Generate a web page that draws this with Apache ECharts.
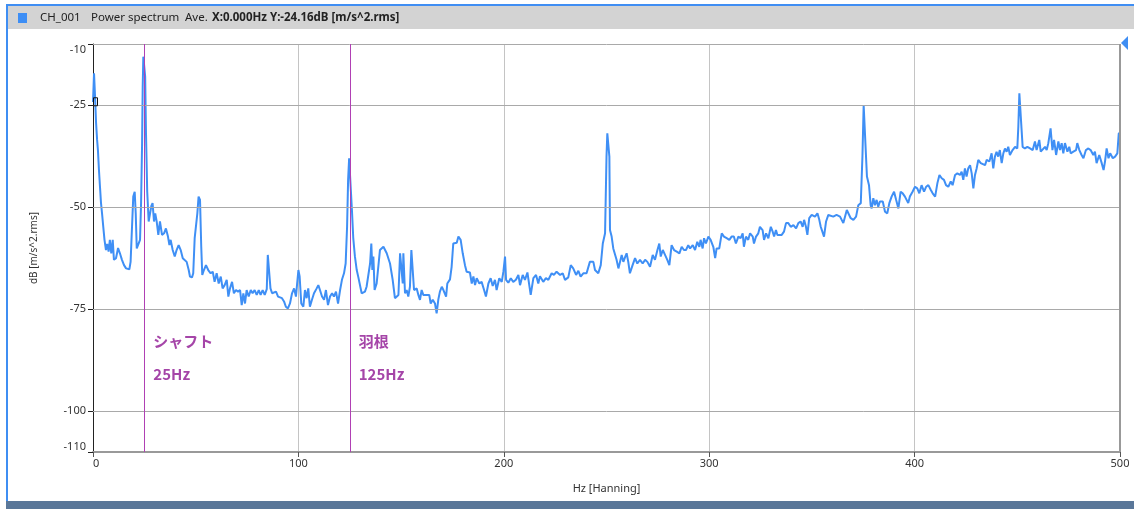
<!DOCTYPE html>
<html><head><meta charset="utf-8">
<script src="https://cdn.jsdelivr.net/npm/echarts@6/dist/echarts.min.js"></script>
<style>html,body{margin:0;padding:0;background:#fff}#c{width:1134px;height:509px}</style>
</head><body><div id="c"></div>
<script>
// Spectrum values: [Hz, dB]
const band0to60 = [[0,-24.2],[0.5,-17.2],[1.0,-22.9],[1.5,-29.4],[2.0,-33.5],[2.4,-36],[2.9,-40.9],[3.4,-45],[3.9,-49],[4.4,-51.5],[5.0,-54.8],[5.6,-58],[6.3,-60.5],[6.9,-59],[7.6,-60.9],[8.2,-58],[8.9,-61.3],[9.6,-58],[10.2,-62.9],[11.2,-62.5],[12.2,-60],[13.1,-61.3],[14.1,-62.9],[15.1,-64.2],[16.1,-65],[17.0,-64.6],[17.7,-65.2],[18.3,-63.4],[19.0,-54.8],[19.6,-47.4],[20.3,-46.2],[20.8,-51.5],[21.3,-60.1],[22.1,-60.1],[22.9,-58],[23.4,-49],[23.9,-34.3],[24.2,-20.5],[24.5,-13.1],[25.2,-13.1],[25.4,-18],[25.8,-31.8],[26.4,-46.2],[27.1,-53.5],[27.8,-53.9],[28.4,-49.7],[29.0,-49],[29.7,-53.5],[30.3,-51.5],[31.0,-53.5],[31.8,-56.8],[32.6,-53.5],[33.6,-56.8],[34.6,-56.4],[35.5,-55.2],[36.5,-57.2],[37.2,-59.3],[37.8,-58],[38.8,-60.5],[39.8,-62.1],[40.7,-60.5],[41.7,-59.3],[42.7,-60.5],[43.7,-62.5],[44.6,-62.9],[45.6,-63.4],[46.6,-65.4],[47.2,-67],[48.2,-67.2],[48.8,-66.2],[49.5,-57.6],[50.3,-58],[50.8,-51.5],[51.4,-47.4],[52.1,-48.2],[52.7,-59.7],[53.2,-66.6],[54.0,-65.4],[55.0,-64.2],[56.1,-65.4],[57.3,-66.2],[58.3,-65.8],[59.2,-68.3]];
const band60to134 = [[60.2,-66.2],[61.2,-68.7],[62.2,-67],[63.1,-69.9],[64.1,-69.1],[65.1,-67.8],[65.9,-71.9],[66.7,-69.9],[67.7,-68.3],[68.6,-71.1],[69.6,-70.3],[70.6,-70.7],[71.6,-70.3],[72.4,-74],[73.2,-71.1],[74.0,-73.6],[74.8,-70.3],[75.8,-71.9],[76.8,-70.3],[77.7,-71.1],[78.7,-70.3],[79.7,-71.5],[80.7,-70.3],[81.6,-71.5],[82.6,-70.3],[83.6,-71.5],[84.6,-70.1],[85.1,-61.7],[85.7,-61.7],[86.4,-69.9],[87.2,-71.1],[88.1,-71.5],[89.1,-70.7],[90.1,-71.9],[91.0,-71.9],[92.0,-72.3],[93.0,-73.1],[93.9,-74.4],[94.9,-74.8],[95.9,-73.6],[96.9,-71.1],[97.9,-69.9],[98.8,-71.9],[99.5,-71.5],[100.0,-65.4],[100.6,-67],[101.4,-73.6],[102.4,-74.4],[103.2,-70.3],[104.0,-72.3],[104.8,-69.9],[105.6,-74.4],[106.6,-72.7],[107.6,-71.1],[108.9,-69.9],[109.7,-69.1],[110.5,-70.3],[111.5,-71.9],[112.5,-72.7],[113.4,-70.3],[114.4,-74],[115.4,-71.9],[116.4,-71.1],[117.3,-71.9],[118.3,-70.7],[119.3,-73.6],[120.3,-70.3],[121.2,-67.8],[122.2,-66.2],[123.0,-63.8],[123.7,-54.8],[124.2,-43.3],[124.7,-38],[125.6,-38],[126.1,-51.1],[126.7,-57.5],[127.5,-62],[128.4,-65.4],[129.2,-67.2],[130.8,-71.1],[132.4,-70.7],[133.2,-69.5],[134.0,-69.9]];
const band134to239 = [[134.9,-63.8],[135.5,-58.9],[136.0,-65.4],[136.5,-62.1],[137.1,-70.3],[138.1,-68.7],[139.7,-60.5],[141.4,-59.7],[143.0,-61.3],[144.6,-63.8],[145.9,-67.8],[147.0,-72.3],[148.7,-71.5],[149.5,-61.3],[150.3,-61.3],[150.8,-68.7],[151.1,-61.3],[151.9,-71.1],[152.7,-70.3],[153.5,-71.9],[154.3,-69.5],[155.0,-60.5],[155.6,-60.3],[156.3,-70.3],[157.6,-69.9],[158.4,-71.5],[159.2,-72.7],[160.0,-70.3],[160.8,-71.5],[162.4,-71.5],[163.7,-71.5],[164.4,-73.6],[165.4,-72.7],[166.5,-73.6],[167.3,-76],[168.1,-72.7],[168.9,-70.7],[169.8,-69.5],[170.6,-70.3],[171.9,-71.9],[172.5,-68.7],[173.8,-67.7],[174.6,-64.6],[175.4,-58.9],[176.2,-58.5],[177.1,-58.7],[177.9,-57.2],[179.0,-58],[180.0,-61.3],[181.1,-64.2],[181.9,-65.8],[183.5,-66],[184.4,-68.7],[185.2,-67],[186.0,-69.1],[186.8,-67.4],[188.1,-68.7],[189.2,-68.3],[190.4,-70.3],[191.3,-71.9],[192.5,-68.7],[193.6,-67.4],[194.6,-69.3],[195.7,-67.8],[196.5,-70.3],[197.8,-67.4],[199.0,-68.3],[199.8,-65.8],[200.6,-62.1],[201.1,-67.8],[202.2,-68.5],[203.4,-67.4],[204.6,-68.3],[205.9,-67.8],[207.1,-66.6],[207.9,-69.1],[209.2,-66.6],[210.3,-67.8],[211.5,-66],[212.4,-69.1],[213.1,-71.5],[214.4,-67.4],[215.7,-66.6],[216.8,-68.7],[217.6,-66.9],[219.2,-68.3],[220.5,-67.4],[221.7,-67.8],[223.3,-66.2],[224.4,-66.6],[225.7,-65.8],[227.4,-66.6],[228.7,-66.2],[229.8,-67.8],[231.4,-67.2],[232.6,-64.2],[233.8,-65],[235.2,-66.6],[236.3,-65.6],[237.4,-67],[238.7,-66.2]];
const band240to358 = [[240.3,-66.2],[241.9,-63.4],[243.6,-63.4],[244.4,-65.4],[246.0,-66.2],[247.2,-64.2],[248.2,-58.9],[249.3,-56.4],[250.0,-37.6],[250.4,-31.9],[250.9,-32.3],[251.4,-37.6],[251.7,-55.6],[252.5,-57.2],[253.3,-60.1],[254.9,-62.9],[255.8,-65],[257.4,-61.7],[258.2,-63.4],[259.0,-62.3],[259.8,-61.3],[260.6,-63.4],[261.4,-66.2],[262.7,-64.2],[263.9,-62.5],[265.0,-63.8],[266.3,-62.9],[267.6,-63.8],[268.8,-62.9],[269.9,-63.4],[271.2,-64.6],[272.5,-61.7],[273.6,-62.9],[274.8,-60.5],[275.7,-58.9],[276.4,-62.1],[277.4,-60.5],[278.5,-61.7],[279.6,-62.9],[280.6,-64.2],[281.7,-59.3],[282.9,-60.5],[284.2,-60.9],[285.5,-61.3],[286.6,-59.7],[287.7,-60.5],[288.7,-60.5],[289.8,-59.3],[290.7,-60.1],[292.0,-59.3],[293.1,-60.5],[294.2,-58.5],[295.2,-59.7],[295.8,-58],[296.8,-60.1],[297.5,-57.6],[298.4,-58.9],[299.6,-57.2],[300.7,-58],[302.0,-59.7],[302.9,-62.5],[303.6,-60.1],[304.9,-60.1],[306.1,-56.4],[307.2,-57.2],[308.5,-57.6],[309.8,-58],[310.9,-57.2],[312.0,-57.2],[313.0,-58.9],[314.2,-57.2],[315.3,-57.6],[316.3,-56.4],[316.9,-59.7],[317.9,-57.2],[319.0,-58],[319.9,-56.4],[321.2,-57.2],[321.8,-58.9],[322.8,-57.2],[323.9,-56.4],[324.7,-54.8],[326.0,-55.6],[326.7,-58],[327.7,-56.4],[328.8,-57.6],[330.0,-54.8],[330.9,-56],[331.6,-57.2],[332.5,-55.6],[333.2,-56.8],[334.1,-56.4],[335.3,-56.8],[336.4,-56],[337.4,-53.9],[338.5,-53.9],[339.7,-54.8],[341.0,-54.4],[342.3,-55.2],[343.4,-53.9],[344.5,-53.5],[345.5,-54.8],[346.2,-53.1],[347.1,-54.8],[347.8,-56.8],[348.7,-52.7],[349.9,-51.9],[350.7,-51.5],[351.5,-52.3],[352.7,-51.5],[353.6,-53.1],[354.3,-54.8],[355.2,-55.2],[355.9,-57.2],[356.9,-53.5],[358.0,-51.9]];
const band359to500 = [[358.8,-51.9],[360.4,-52.3],[362.0,-51.9],[363.7,-52.3],[365.3,-53.9],[367.0,-50.7],[367.7,-50.3],[368.9,-52.7],[370.2,-53.1],[371.5,-52.3],[372.6,-49.5],[373.8,-49],[374.6,-37.6],[375.2,-25],[376.1,-25],[376.8,-42.5],[377.8,-44.6],[378.6,-49.5],[379.1,-50.3],[379.9,-47.8],[380.7,-49.5],[381.5,-48.2],[382.3,-49.9],[383.1,-48.6],[384.5,-48.6],[385.6,-51.1],[386.7,-51.5],[387.7,-49],[388.8,-47.4],[390.0,-46.2],[391.0,-48.2],[392.1,-50.3],[393.2,-46.2],[394.2,-46.6],[395.3,-47.4],[396.1,-48.2],[396.9,-49],[397.7,-47.4],[399.0,-46.2],[400.2,-45],[401.3,-45.4],[402.3,-46.6],[403.4,-44.6],[404.6,-46.2],[405.6,-45],[406.7,-44.6],[407.9,-45.8],[408.8,-46.6],[410.0,-47.4],[411.1,-44.1],[412.1,-42.1],[413.2,-42.9],[414.3,-43.3],[415.3,-44.6],[416.4,-45],[417.6,-43.7],[418.5,-44.6],[419.7,-42.1],[420.8,-41.7],[422.1,-42.1],[422.9,-41.3],[423.7,-43.3],[424.5,-40.5],[425.3,-42.5],[426.1,-40.5],[427.0,-39.7],[427.8,-41.7],[428.6,-45.4],[429.4,-42.1],[430.2,-40.5],[431.0,-38.4],[432.2,-39.2],[433.1,-38.8],[434.3,-39.7],[435.1,-38.4],[436.4,-38.8],[437.5,-36.8],[438.3,-40.5],[439.1,-37.6],[439.9,-36.4],[440.7,-37.6],[441.5,-36],[442.4,-39.2],[443.2,-36.8],[444.0,-35.6],[444.8,-36.4],[445.6,-35.2],[446.4,-37.2],[447.7,-36],[448.9,-35.2],[450.0,-35.6],[450.5,-30.3],[451.0,-22.1],[451.6,-21.7],[452.1,-31.1],[452.6,-35.2],[453.7,-35.6],[454.9,-35.2],[456.2,-35.6],[457.5,-36],[458.6,-33.9],[459.4,-36],[460.7,-33.5],[461.4,-36.4],[462.3,-36],[463.5,-35.2],[464.3,-36],[465.1,-34.3],[466.2,-30.7],[467.1,-36],[467.9,-33.5],[468.9,-37.2],[470.0,-33.9],[470.8,-36],[471.6,-34.3],[472.4,-36.8],[473.2,-34.3],[474.4,-36.4],[475.3,-35.2],[476.0,-36.8],[477.3,-36.4],[478.6,-36],[479.2,-34.3],[480.2,-36],[481.3,-37.2],[482.2,-38],[483.4,-36],[484.6,-35.6],[485.7,-36],[487.0,-37.2],[487.8,-36.4],[488.6,-39.2],[489.9,-37.2],[491.1,-39.2],[492.0,-40.9],[492.7,-38.8],[493.5,-35.6],[494.4,-38],[495.2,-36.8],[496.5,-38],[497.6,-37.6],[498.7,-36.8],[499.4,-31.9],[500.0,-31.9]];

const yTickValues = [-110, -100, -75, -50, -25, -10];
const yGridValues = [-10, -25, -50, -75, -100];
const markerHz = [25, 125];
const markerLabels = [['シャフト', '25Hz'], ['羽根', '125Hz']];
const cursorPoint = [0, -24.16];
const headerParts = ['CH_001', 'Power spectrum', 'Ave.', 'X:0.000Hz Y:-24.16dB [m/s^2.rms]'];
const xAxisName = 'Hz [Hanning]';
const yAxisName = 'dB [m/s^2.rms]';

const spectrum = band0to60.concat(band60to134, band134to239, band240to358, band359to500);

const FONT = "'Noto Sans', 'DejaVu Sans', sans-serif";
const chart = echarts.init(document.getElementById('c'), null, {renderer: 'canvas'});

chart.setOption({
  animation: false,
  backgroundColor: '#fff',
  grid: {left: 93, top: 44, right: 14, bottom: 57, containLabel: false},
  xAxis: {
    type: 'value', min: 0, max: 500, interval: 100,
    name: xAxisName, nameLocation: 'middle', nameGap: 31,
    nameTextStyle: {color: '#333', fontSize: 11, fontFamily: FONT},
    axisLine: {show: true, lineStyle: {color: '#999', width: 2}},
    axisTick: {show: true, length: 5, lineStyle: {color: '#555'}},
    axisLabel: {color: '#333', fontSize: 11, fontFamily: FONT, margin: 6, alignMinLabel: 'left'},
    splitLine: {show: true, lineStyle: {color: '#c4c4c4', width: 1}}
  },
  yAxis: {
    type: 'value', min: -110, max: -10,
    name: yAxisName, nameLocation: 'middle', nameGap: 54, nameRotate: 90,
    nameTextStyle: {color: '#333', fontSize: 10, fontFamily: FONT},
    axisLine: {show: true, onZero: false, lineStyle: {color: '#222', width: 1}},
    axisTick: {show: true, length: 5, customValues: yTickValues, lineStyle: {color: '#222'}},
    axisLabel: {color: '#333', fontSize: 11, fontFamily: FONT, margin: 7, customValues: yTickValues,
      verticalAlignMinLabel: 'bottom', verticalAlignMaxLabel: 'top'},
    splitLine: {show: false}
  },
  series: [
    {
      type: 'line', data: [], z: 1, silent: true,
      markLine: {
        silent: true, symbol: 'none', label: {show: false}, animation: false,
        lineStyle: {color: '#a9a9a9', type: 'solid', width: 1},
        data: yGridValues.map(v => ({yAxis: v})).concat([{xAxis: 500, lineStyle: {color: '#999', width: 2}}])
      }
    },
    {
      type: 'line', data: [], z: 2, silent: true,
      markLine: {
        silent: true, symbol: 'none', label: {show: false}, animation: false,
        lineStyle: {color: '#b040b4', type: 'solid', width: 1},
        data: markerHz.map(v => ({xAxis: v}))
      }
    },
    {
      type: 'line', data: spectrum, z: 3, showSymbol: false, silent: true,
      lineStyle: {color: '#3f8ff5', width: 2}, sampling: null
    }
  ]
});

const graphics = [
  {type: 'rect', shape: {x: 6, y: 4, width: 1128, height: 2}, style: {fill: '#3f8ef3'}, z: 10},
  {type: 'rect', shape: {x: 6, y: 4, width: 2, height: 497}, style: {fill: '#3f8ef3'}, z: 10},
  {type: 'rect', shape: {x: 8, y: 6, width: 1126, height: 23}, style: {fill: '#d3d3d3'}, z: 9},
  {type: 'rect', shape: {x: 18, y: 13, width: 9, height: 10}, style: {fill: '#3d8ef5'}, z: 10},
  {type: 'rect', shape: {x: 6, y: 501, width: 1128, height: 8}, style: {fill: '#5a7799'}, z: 10},
  {type: 'polygon', shape: {points: [[1121, 43], [1128, 36], [1128, 50]]}, style: {fill: '#3f8ef3'}, z: 10}
];
const headerX = [40, 91, 185, 212];
headerParts.forEach((t, i) => {
  graphics.push({type: 'text', x: headerX[i], y: 18, z: 11,
    style: {text: t, fill: '#222', font: (i === 3 ? 'bold ' : '') + '11.5px ' + FONT, textVerticalAlign: 'middle'}});
});
markerHz.forEach((hz, i) => {
  const p1 = chart.convertToPixel({xAxisIndex: 0, yAxisIndex: 0}, [hz, -82.8]);
  const p2 = chart.convertToPixel({xAxisIndex: 0, yAxisIndex: 0}, [hz, -90.9]);
  graphics.push({type: 'text', x: p1[0] + 9, y: p1[1], z: 11,
    style: {text: markerLabels[i][0], fill: '#a545a8', font: "bold 15px 'Noto Sans CJK JP', sans-serif", textVerticalAlign: 'middle'}});
  graphics.push({type: 'text', x: p2[0] + 9, y: p2[1], z: 11,
    style: {text: markerLabels[i][1], fill: '#a545a8', font: "bold 15px 'Noto Sans CJK JP', sans-serif", textVerticalAlign: 'middle'}});
});
const cp = chart.convertToPixel({xAxisIndex: 0, yAxisIndex: 0}, cursorPoint);
graphics.push({type: 'rect', shape: {x: cp[0] + 0.5, y: cp[1] - 4, width: 4, height: 8}, z: 12,
  style: {fill: 'rgba(0,0,0,0)', stroke: '#111', lineWidth: 1}});
chart.setOption({graphic: graphics});
</script></body></html>
